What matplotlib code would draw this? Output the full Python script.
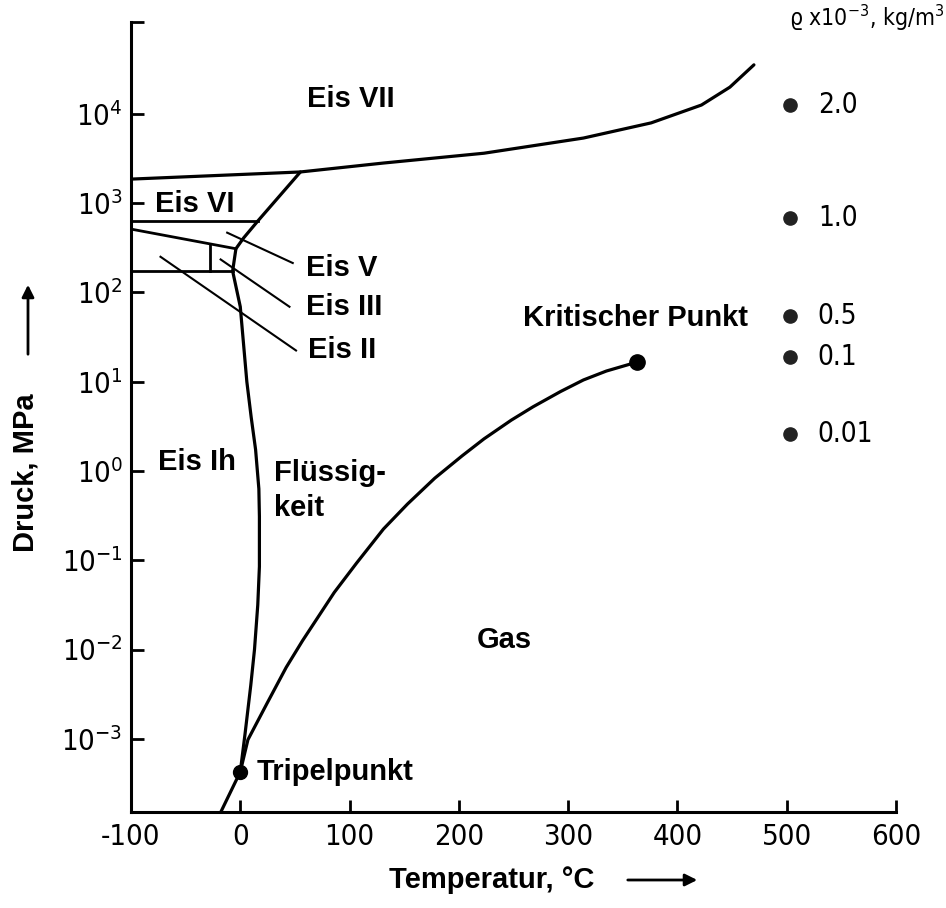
import numpy as np
import matplotlib.pyplot as plt

plt.rcParams["font.family"] = ["DejaVu Sans"]
plt.rcParams["font.stretch"] = "condensed"
plt.rcParams["mathtext.default"] = "regular"
plt.rcParams["axes.unicode_minus"] = False

# phase boundaries: temperature in °C, log10(pressure / MPa)
vap_t = [0, 7, 24.6, 42, 57, 86, 106.5, 131, 153, 178, 203, 223, 248, 268, 293, 314, 335, 363]
vap_logp = [-3.37, -3.01, -2.60, -2.20, -1.90, -1.36, -1.03, -0.65, -0.37, -0.08, 0.17, 0.36,
            0.57, 0.72, 0.89, 1.02, 1.12, 1.22]

melt_t = [55, 16, 3, -4, -7, 0, 6, 10, 14, 17, 17.5, 17.5, 16, 13, 9.6, 4.4, 0]
melt_logp = [3.35, 2.80, 2.61, 2.49, 2.24, 1.84, 1.00, 0.60, 0.24, -0.20, -0.51, -1.07, -1.50,
             -2.00, -2.40, -2.94, -3.37]

subl_t = [0, -19]
subl_logp = [-3.37, -3.85]

vii_t = [-100, 55, 131, 223, 314, 376, 422, 448, 470]
vii_logp = [3.27, 3.35, 3.45, 3.56, 3.73, 3.90, 4.10, 4.30, 4.55]

vi_t = [-100, 16]
vi_logp = [2.80, 2.80]
v_t = [-100, -4]
v_logp = [2.71, 2.49]
ii_t = [-100, -7]
ii_logp = [2.24, 2.24]
iii_t = [-28, -28]
iii_logp = [2.545, 2.24]

triple = (0, -3.37)
critical = (363, 1.22)

dens_t = 503
dens_logp = [4.10, 2.83, 1.74, 1.28, 0.42]
dens_labels = ["2.0", "1.0", "0.5", "0.1", "0.01"]

x_ticks = [-100, 0, 100, 200, 300, 400, 500, 600]
y_exps = [-3, -2, -1, 0, 1, 2, 3, 4]

LABEL_FONT = ["Liberation Sans", "DejaVu Sans"]


def p(vals):
    return 10 ** np.asarray(vals, dtype=float)


fig = plt.figure(figsize=(9.46, 9.08), dpi=100)
ax = fig.add_axes([131 / 946, 1 - 812 / 908, (896 - 131) / 946, (812 - 22) / 908])
ax.set_yscale("log")
ax.set_xlim(-100, 600)
ax.set_ylim(10 ** -3.82, 10 ** 5.03)

line_kw = dict(color="black", lw=2.3, solid_capstyle="round", solid_joinstyle="round")
ax.plot(vap_t, p(vap_logp), **line_kw)
ax.plot(melt_t, p(melt_logp), **line_kw)
ax.plot(subl_t, p(subl_logp), **line_kw)
ax.plot(vii_t, p(vii_logp), **line_kw)
for tt, lp in [(vi_t, vi_logp), (v_t, v_logp), (ii_t, ii_logp), (iii_t, iii_logp)]:
    ax.plot(tt, p(lp), color="black", lw=2.0)

ax.plot([triple[0]], [10 ** triple[1]], "o", color="black", ms=10)
ax.plot([critical[0]], [10 ** critical[1]], "o", color="black", ms=11)

# density scale on the right
ax.plot([dens_t] * len(dens_logp), p(dens_logp), "o", color="#222222", ms=9.5, clip_on=False)
for lp, lab in zip(dens_logp, dens_labels):
    ax.annotate(lab, (dens_t, 10 ** lp), xytext=(20, 0), textcoords="offset points",
                va="center", ha="left", fontsize=20)
fig.text(944 / 946, 1 - 18 / 908, r"$\varrho$ x10$^{-3}$, kg/m$^3$", fontsize=16.5,
         va="center", ha="right")

# region labels
bold = dict(fontsize=21, fontweight="bold", family=LABEL_FONT, stretch="normal")
ax.text(61, 10 ** 4.17, "Eis VII", va="center", ha="left", **bold)
ax.text(-78, 10 ** 2.99, "Eis VI", va="center", ha="left", **bold)
ax.text(-75, 10 ** 0.10, "Eis Ih", va="center", ha="left", **bold)
ax.text(31, 10 ** -0.22, "Flüssig-\nkeit", va="center", ha="left", linespacing=1.3, **bold)
ax.text(242, 10 ** -1.89, "Gas", va="center", ha="center", **bold)
ax.text(465, 10 ** 1.71, "Kritischer Punkt", va="center", ha="right", **bold)
ax.text(15, 10 ** triple[1], "Tripelpunkt", va="center", ha="left", **bold)

leaders = [
    ("Eis V", (-12, 2.67), (48, 2.33), (60, 2.27)),
    ("Eis III", (-18, 2.37), (45, 1.84), (60, 1.84)),
    ("Eis II", (-73, 2.40), (51, 1.35), (62, 1.35)),
]
for lab, a, b, txt in leaders:
    ax.plot([a[0], b[0]], [10 ** a[1], 10 ** b[1]], color="black", lw=1.5)
    ax.text(txt[0], 10 ** txt[1], lab, va="center", ha="left", **bold)

# axes styling
for side in ("top", "right"):
    ax.spines[side].set_visible(False)
for side in ("left", "bottom"):
    ax.spines[side].set_linewidth(2.2)

ax.set_xticks(x_ticks)
ax.set_xticklabels([str(t) for t in x_ticks])
ax.set_yticks(list(p(y_exps)) + [10 ** 5.03])
ax.set_yticklabels([rf"$10^{{{e}}}$" for e in y_exps] + [""])
ax.minorticks_off()
ax.tick_params(axis="both", direction="in", width=2, length=9, labelsize=21)
ax.tick_params(axis="x", pad=8)
ax.tick_params(axis="y", pad=6)

# axis titles with arrows
fig.text(492 / 946, 1 - 880 / 908, "Temperatur, °C", fontsize=21, fontweight="bold",
         family=LABEL_FONT, stretch="normal", ha="center", va="center")
fig.text(26 / 946, 1 - 473 / 908, "Druck, MPa", fontsize=21, fontweight="bold",
         family=LABEL_FONT, stretch="normal", ha="center", va="center", rotation=90)
arrow = dict(arrowstyle="-|>", color="black", lw=2, mutation_scale=18)
ax.annotate("", xy=(700 / 946, 1 - 880 / 908), xytext=(625 / 946, 1 - 880 / 908),
            xycoords="figure fraction", textcoords="figure fraction", arrowprops=arrow)
ax.annotate("", xy=(28 / 946, 1 - 282 / 908), xytext=(28 / 946, 1 - 357 / 908),
            xycoords="figure fraction", textcoords="figure fraction", arrowprops=arrow)

fig.savefig("out.png", dpi=100)
